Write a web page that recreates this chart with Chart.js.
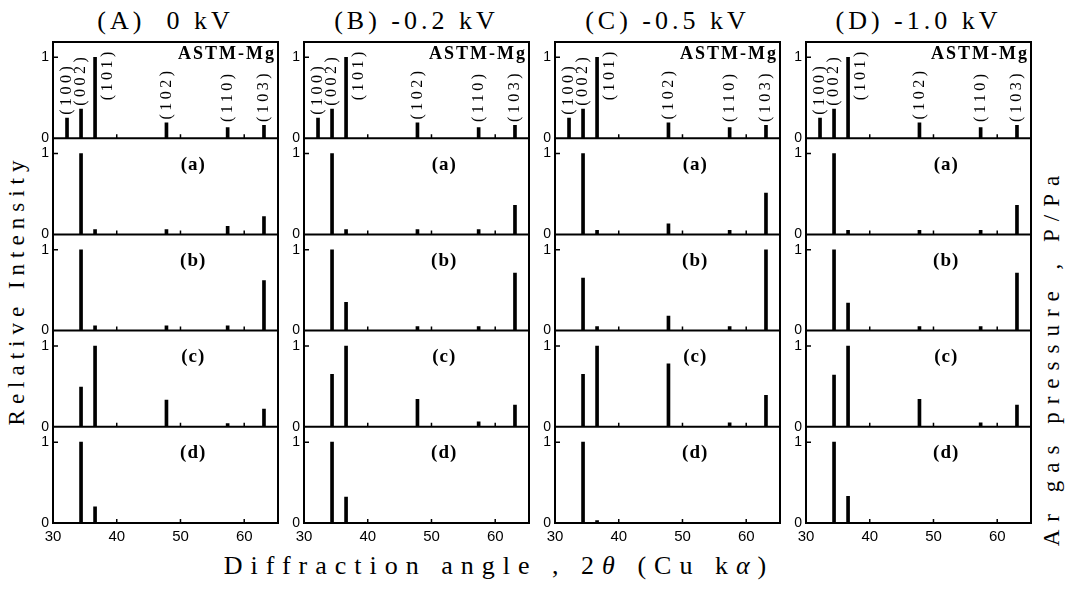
<!DOCTYPE html>
<html>
<head>
<meta charset="utf-8">
<script src="https://cdn.jsdelivr.net/npm/chart.js@4.4.0/dist/chart.umd.min.js"></script>
<style>
  body { margin: 0; background: #fff; }
  #wrap { position: relative; width: 1075px; height: 590px; overflow: hidden;
          font-family: "Liberation Serif", "DejaVu Serif", serif; color: #000; }
  .panel { position: absolute; top: 0; }
  .title { position: absolute; top: 21px; transform: translate(-50%, -50%);
           font-size: 26px; letter-spacing: 4px; white-space: pre; }
  .axlabel { position: absolute; transform: translate(-50%, -50%); white-space: pre;
             font-size: 23px; letter-spacing: 6px; }
  .rot { transform: translate(-50%, -50%) rotate(-90deg); }
</style>
</head>
<body>
<div id="wrap">
  <div class="axlabel rot" style="left:17px; top:290px;">Relative Intensity</div>
  <div class="axlabel rot" style="left:1052px; top:357px; letter-spacing:8px;">Ar gas pressure , P/Pa</div>
  <div class="axlabel" style="left:499px; top:566px; font-size:26px; letter-spacing:8px;">Diffraction angle , 2<i>θ</i> (Cu k<i>α</i>)</div>
</div>
<script>
// column titles and panel labels
const columnTitles = ['(A)  0 kV', '(B) -0.2 kV', '(C) -0.5 kV', '(D) -1.0 kV'];
const rowLabels = ['ASTM-Mg', '(a)', '(b)', '(c)', '(d)'];

// ASTM reference pattern for Mg
const astmHkl = ['(100)', '(002)', '(101)', '(102)', '(110)', '(103)'];
const astmAngle = [32.2, 34.4, 36.6, 47.8, 57.4, 63.1];
const astmIntensity = [0.25, 0.36, 1.0, 0.19, 0.13, 0.16];

// film peaks: (002) (101) (102) (110) (103)
const peakAngle = [34.4, 36.6, 47.8, 57.4, 63.1];
const sampleA = [
  [1.0, 0.06, 0.06, 0.10, 0.22],
  [1.0, 0.06, 0.06, 0.06, 0.62],
  [0.49, 1.0, 0.33, 0.04, 0.22],
  [1.0, 0.20, 0, 0, 0]
];
const sampleB = [
  [1.0, 0.06, 0.06, 0.06, 0.36],
  [1.0, 0.35, 0.05, 0.05, 0.71],
  [0.65, 1.0, 0.34, 0.06, 0.27],
  [1.0, 0.32, 0, 0, 0]
];
const sampleC = [
  [1.0, 0.05, 0.13, 0.05, 0.51],
  [0.65, 0.05, 0.18, 0.05, 1.0],
  [0.65, 1.0, 0.78, 0.05, 0.39],
  [1.0, 0.03, 0, 0, 0]
];
const sampleD = [
  [1.0, 0.05, 0.05, 0.05, 0.36],
  [1.0, 0.34, 0.05, 0.05, 0.71],
  [0.64, 1.0, 0.34, 0.05, 0.27],
  [1.0, 0.33, 0, 0, 0]
];
const samples = [sampleA, sampleB, sampleC, sampleD];

const xTicks = [30, 40, 50, 60];
const yTicks = [0, 1];

// layout
const plotLeft = [53, 304, 555, 806];
const plotWidth = 225;
const plotTop = 42, plotBottom = 523;
const axisW = 16, axisH = 24;
const H = 590;

const wrap = document.getElementById('wrap');

const framePlugin = {
  id: 'frame',
  afterDatasetsDraw(chart) {
    const { ctx, chartArea: a, scales } = chart;
    const xs = scales.x;
    ctx.save();
    ctx.strokeStyle = '#000';
    ctx.fillStyle = '#000';
    ctx.lineWidth = 2;
    ctx.strokeRect(a.left, a.top, a.right - a.left, a.bottom - a.top);

    rowLabels.forEach((lab, k) => {
      const ys = scales['y' + k];
      const y0 = ys.getPixelForValue(0);
      const y1 = ys.getPixelForValue(1);
      ctx.lineWidth = 2;
      ctx.beginPath();
      ctx.moveTo(a.left, y0);
      ctx.lineTo(a.right, y0);
      ctx.stroke();
      ctx.lineWidth = 1.5;
      ctx.beginPath();
      ctx.moveTo(a.left, y1);
      ctx.lineTo(a.left + 5, y1);
      xTicks.slice(1).forEach(v => {
        const x = xs.getPixelForValue(v);
        ctx.moveTo(x, y0);
        ctx.lineTo(x, y0 - 4);
      });
      ctx.stroke();

      if (k === 0) {
        ctx.font = 'bold 18px "Liberation Serif"';
        ctx.letterSpacing = '2px';
        ctx.textAlign = 'right';
        ctx.textBaseline = 'top';
        ctx.fillText(lab, a.right - 2, a.top + 3);

        // Miller indices above the ASTM lines
        ctx.font = '16px "Liberation Serif"';
        ctx.letterSpacing = '3.5px';
        ctx.textAlign = 'left';
        ctx.textBaseline = 'middle';
        astmHkl.forEach((hkl, j) => {
          let x = xs.getPixelForValue(astmAngle[j]);
          let v = Math.max(astmIntensity[j] + 0.04, 0.2);
          if (astmIntensity[j] > 0.9) { x += 13; v = 0.47; }
          ctx.save();
          ctx.translate(x, ys.getPixelForValue(v));
          ctx.rotate(-Math.PI / 2);
          ctx.fillText(hkl, 0, 0);
          ctx.restore();
        });
      } else {
        ctx.font = 'bold 19px "Liberation Serif"';
        ctx.letterSpacing = '1px';
        ctx.textAlign = 'center';
        ctx.textBaseline = 'middle';
        ctx.fillText(lab, xs.getPixelForValue(52), ys.getPixelForValue(0.86));
      }
    });
    ctx.restore();
  }
};

columnTitles.forEach((title, c) => {
  const t = document.createElement('div');
  t.className = 'title';
  t.style.left = (plotLeft[c] + plotWidth / 2) + 'px';
  t.textContent = title;
  wrap.appendChild(t);

  const box = document.createElement('div');
  box.className = 'panel';
  box.style.left = (plotLeft[c] - axisW) + 'px';
  const cv = document.createElement('canvas');
  cv.width = plotWidth + 2 * axisW;
  cv.height = H;
  box.appendChild(cv);
  wrap.appendChild(box);

  const rows = [astmIntensity].concat(samples[c]);
  const datasets = rows.map((vals, k) => {
    const ang = k === 0 ? astmAngle : peakAngle;
    return {
      data: ang.map((a, j) => ({ x: a, y: vals[j] })).filter(p => p.y > 0),
      xAxisID: 'x',
      yAxisID: 'y' + k,
      backgroundColor: '#000',
      borderWidth: 0,
      barThickness: 3,
      grouped: false
    };
  });

  const scales = {
    x: {
      type: 'linear', position: 'bottom', min: 30, max: 65.3, offset: false,
      grid: { display: false, drawTicks: false },
      border: { display: false },
      afterBuildTicks: s => { s.ticks = xTicks.map(v => ({ value: v })); },
      afterFit: s => { s.height = axisH; },
      ticks: { color: '#000', padding: 5, maxRotation: 0,
               font: { family: 'Liberation Sans', size: 15 } }
    }
  };
  rowLabels.forEach((lab, k) => {
    scales['y' + k] = {
      type: 'linear', position: 'left', stack: 'col', stackWeight: 1, weight: 10 - k,
      min: 0, max: 1.19, offset: false,
      grid: { display: false, drawTicks: false },
      border: { display: false },
      afterBuildTicks: s => { s.ticks = yTicks.map(v => ({ value: v })); },
      afterFit: s => { s.width = axisW; },
      ticks: { color: '#000', padding: 4,
               font: { family: 'Liberation Sans', size: 14 } }
    };
  });

  new Chart(cv, {
    type: 'bar',
    data: { datasets },
    options: {
      responsive: false,
      animation: false,
      devicePixelRatio: 1,
      layout: { padding: { top: plotTop, bottom: H - plotBottom - axisH, left: 0, right: axisW } },
      plugins: { legend: { display: false }, tooltip: { enabled: false } },
      scales
    },
    plugins: [framePlugin]
  });
});
</script>
</body>
</html>
